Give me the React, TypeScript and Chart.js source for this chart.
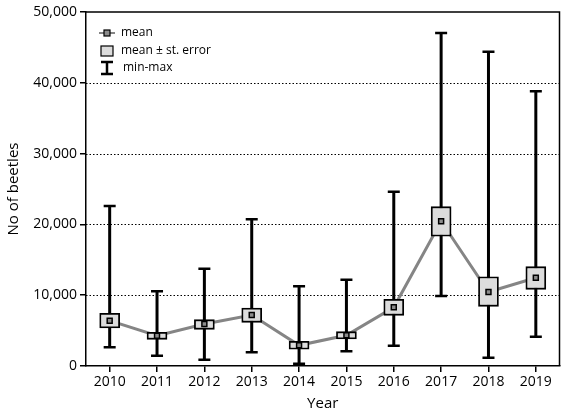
import React, { useEffect, useRef } from "react";
import { Chart, registerables } from "chart.js";

Chart.register(...registerables);

const years = ["2010", "2011", "2012", "2013", "2014", "2015", "2016", "2017", "2018", "2019"];
const means = [6400, 4280, 5930, 7200, 2920, 4340, 8290, 20440, 10450, 12470];
const seLow = [5370, 3770, 5180, 6170, 2360, 3810, 7160, 18320, 8430, 10830];
const seHigh = [7440, 4760, 6540, 8190, 3490, 4850, 9420, 22500, 12610, 14030];
const mins = [2640, 1460, 890, 1940, 330, 2080, 2870, 9890, 1170, 4140];
const maxs = [22600, 10550, 13740, 20720, 11260, 12190, 24620, 47030, 44390, 38800];
const yTicks = [0, 10000, 20000, 30000, 40000, 50000];
const legendLabels = ["mean", "mean \u00b1 st. error", "min-max"];

const FONT = "'Open Sans', 'DejaVu Sans', sans-serif";

const extrasPlugin = {
  id: "extras",
  beforeDatasetsDraw(chart: any) {
    const { ctx, chartArea, scales } = chart;
    const x = scales.x;
    const y = scales.y;
    ctx.save();
    ctx.strokeStyle = "#000";
    ctx.lineWidth = 1;
    ctx.setLineDash([1.5, 2]);
    yTicks.forEach((v) => {
      if (v <= 0 || v >= 50000) return;
      const py = Math.round(y.getPixelForValue(v)) + 0.5;
      ctx.beginPath();
      ctx.moveTo(chartArea.left, py);
      ctx.lineTo(chartArea.right, py);
      ctx.stroke();
    });
    ctx.setLineDash([]);
    ctx.lineWidth = 1.5;
    ctx.beginPath();
    ctx.moveTo(chartArea.left, chartArea.top);
    ctx.lineTo(chartArea.right, chartArea.top);
    ctx.lineTo(chartArea.right, chartArea.bottom);
    ctx.stroke();
    years.forEach((_, i) => {
      const px = x.getPixelForValue(i);
      const pTop = y.getPixelForValue(maxs[i]);
      const pBot = y.getPixelForValue(mins[i]);
      ctx.lineWidth = 3;
      ctx.beginPath();
      ctx.moveTo(px, pTop);
      ctx.lineTo(px, pBot);
      ctx.stroke();
      ctx.lineWidth = 2.5;
      ctx.beginPath();
      ctx.moveTo(px - 6, pTop);
      ctx.lineTo(px + 6, pTop);
      ctx.moveTo(px - 6, pBot);
      ctx.lineTo(px + 6, pBot);
      ctx.stroke();
    });
    ctx.restore();
  },
  afterDraw(chart: any) {
    const { ctx } = chart;
    ctx.save();
    const sx = 107;
    const rows = [33, 51, 68];
    ctx.strokeStyle = "#858585";
    ctx.lineWidth = 2;
    ctx.beginPath();
    ctx.moveTo(sx - 8, rows[0]);
    ctx.lineTo(sx + 8, rows[0]);
    ctx.stroke();
    ctx.fillStyle = "#8c8c8c";
    ctx.strokeStyle = "#000";
    ctx.lineWidth = 1.2;
    ctx.fillRect(sx - 3, rows[0] - 3, 6, 6);
    ctx.strokeRect(sx - 3, rows[0] - 3, 6, 6);
    ctx.fillStyle = "#dcdcdc";
    ctx.fillRect(sx - 6, rows[1] - 5, 12, 10);
    ctx.strokeRect(sx - 6, rows[1] - 5, 12, 10);
    ctx.lineWidth = 2.5;
    ctx.beginPath();
    ctx.moveTo(sx, rows[2] - 6);
    ctx.lineTo(sx, rows[2] + 6);
    ctx.moveTo(sx - 6, rows[2] - 6);
    ctx.lineTo(sx + 6, rows[2] - 6);
    ctx.moveTo(sx - 6, rows[2] + 6);
    ctx.lineTo(sx + 6, rows[2] + 6);
    ctx.stroke();
    ctx.fillStyle = "#000";
    ctx.font = `12px ${FONT}`;
    ctx.textBaseline = "middle";
    ctx.textAlign = "left";
    ctx.fillText(legendLabels[0], 121, rows[0]);
    ctx.fillText(legendLabels[1], 121, rows[1]);
    ctx.fillText(legendLabels[2], 123, rows[2]);
    ctx.restore();
  },
};

export default function App() {
  const ref = useRef<HTMLCanvasElement>(null);
  useEffect(() => {
    if (!ref.current) return;
    const chart = new Chart(ref.current, {
      type: "bar",
      data: {
        labels: years,
        datasets: [
          {
            type: "line",
            label: "mean-line",
            data: means,
            borderColor: "#858585",
            borderWidth: 3,
            pointRadius: 0,
            order: 3,
          } as any,
          {
            type: "bar",
            label: "se",
            data: years.map((_, i) => [seLow[i], seHigh[i]]),
            backgroundColor: "#dcdcdc",
            borderColor: "#000",
            borderWidth: 1.8,
            borderSkipped: false,
            barThickness: 20,
            order: 2,
          } as any,
          {
            type: "line",
            label: "mean",
            data: means,
            showLine: false,
            pointStyle: "rect",
            pointRadius: 3.5,
            pointBackgroundColor: "#8c8c8c",
            pointBorderColor: "#000",
            pointBorderWidth: 1.5,
            order: 1,
          } as any,
        ],
      },
      options: {
        animation: false,
        responsive: true,
        maintainAspectRatio: false,
        layout: { padding: { top: 12, right: 4, left: 0, bottom: 0 } },
        plugins: { legend: { display: false }, tooltip: { enabled: false } },
        scales: {
          x: {
            type: "category",
            offset: true,
            grid: { display: true, drawOnChartArea: false, drawTicks: true, tickLength: 6, color: "#000", lineWidth: 1.5, offset: false },
            border: { display: true, color: "#000", width: 1.5 },
            ticks: { color: "#000", font: { family: FONT, size: 14 }, padding: 2, maxRotation: 0, autoSkip: false },
            title: { display: true, text: "Year", color: "#000", font: { family: FONT, size: 15 }, padding: { top: 2, bottom: 2 } },
            afterFit: (s: any) => { s.height = 49; },
          },
          y: {
            min: 0,
            max: 50000,
            grid: { display: true, drawOnChartArea: false, drawTicks: true, tickLength: 6, color: "#000", lineWidth: 1.5 },
            border: { display: true, color: "#000", width: 1.5 },
            ticks: {
              stepSize: 10000,
              color: "#000",
              font: { family: FONT, size: 14 },
              padding: 3,
              callback: (v: any) => Number(v).toLocaleString("en-US"),
            },
            afterBuildTicks: (s: any) => { s.ticks = yTicks.map((v) => ({ value: v })); },
            title: { display: true, text: "No of beetles", color: "#000", font: { family: FONT, size: 15 }, padding: { top: 5, bottom: 5 } },
            afterFit: (s: any) => { s.width = 86; },
          },
        },
      } as any,
      plugins: [extrasPlugin],
    });
    return () => chart.destroy();
  }, []);
  return (
    <div style={{ position: "fixed", left: 0, top: 0, width: 565, height: 415, background: "#fff" }}>
      <canvas ref={ref} />
    </div>
  );
}
